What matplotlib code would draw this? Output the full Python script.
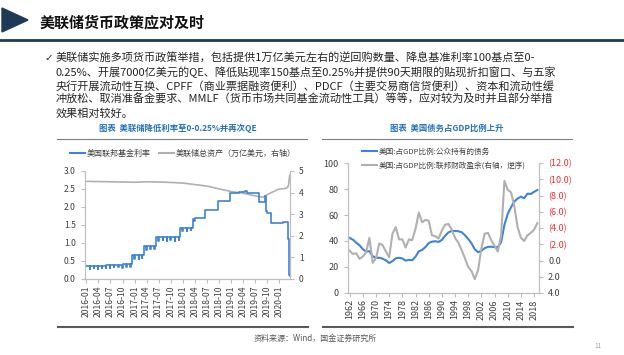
import matplotlib
matplotlib.use('Agg')
import matplotlib.pyplot as plt
from matplotlib.lines import Line2D
from matplotlib.patches import Polygon
import pandas as pd

plt.rcParams['font.family'] = ['Noto Sans CJK SC', 'DejaVu Sans']
plt.rcParams['axes.unicode_minus'] = False

W, H = 624, 355                                    # picture size in px

# ---- left chart: fed funds rate (step points, incl. month-end dips) ----
ffr_dates = ['2016-01-01', '2016-01-29', '2016-02-01', '2016-02-29', '2016-03-01', '2016-03-31',
             '2016-04-01', '2016-04-29', '2016-05-02', '2016-05-31', '2016-06-01', '2016-06-30',
             '2016-07-01', '2016-07-29', '2016-08-01', '2016-08-31', '2016-09-01', '2016-09-30',
             '2016-10-03', '2016-10-31', '2016-11-01', '2016-11-30', '2016-12-01', '2016-12-15',
             '2016-12-30', '2017-01-03', '2017-01-31', '2017-02-01', '2017-02-28', '2017-03-01',
             '2017-03-16', '2017-03-31', '2017-04-03', '2017-04-28', '2017-05-01', '2017-05-31',
             '2017-06-01', '2017-06-15', '2017-06-30', '2017-07-03', '2017-07-31', '2017-08-01',
             '2017-08-31', '2017-09-01', '2017-09-29', '2017-10-02', '2017-10-31', '2017-11-01',
             '2017-11-30', '2017-12-01', '2017-12-14', '2017-12-29', '2018-01-02', '2018-01-31',
             '2018-02-01', '2018-02-28', '2018-03-01', '2018-03-22', '2018-03-29', '2018-04-02',
             '2018-06-14', '2018-09-27', '2018-12-20', '2019-03-01', '2019-04-15', '2019-05-02',
             '2019-07-01', '2019-08-01', '2019-09-17', '2019-09-19', '2019-10-01', '2019-10-31',
             '2020-01-30', '2020-02-27', '2020-03-04', '2020-03-16', '2020-03-18', '2020-03-20']
ffr_vals = [0.36, 0.29, 0.37, 0.30, 0.37, 0.29,
            0.37, 0.31, 0.37, 0.30, 0.38, 0.30,
            0.40, 0.33, 0.40, 0.32, 0.40, 0.30,
            0.41, 0.33, 0.41, 0.32, 0.41, 0.66,
            0.55, 0.66, 0.56, 0.66, 0.57, 0.66,
            0.91, 0.80, 0.91, 0.82, 0.91, 0.82,
            0.91, 1.16, 1.06, 1.16, 1.07, 1.16,
            1.06, 1.16, 1.07, 1.16, 1.06, 1.16,
            1.07, 1.16, 1.42, 1.33, 1.42, 1.34,
            1.42, 1.35, 1.42, 1.68, 1.62, 1.69,
            1.91, 2.18, 2.40, 2.41, 2.44, 2.38,
            2.40, 2.13, 2.30, 1.90, 1.84, 1.56,
            1.59, 1.57, 1.10, 0.25, 0.10, 0.08]

# fed total assets, trillion USD (right axis)
assets_dates = ['2016-01-06', '2016-04-06', '2016-07-06', '2016-10-05', '2017-01-04', '2017-04-05',
                '2017-07-05', '2017-10-04', '2018-01-03', '2018-04-04', '2018-07-04', '2018-10-03',
                '2019-01-02', '2019-04-03', '2019-07-03', '2019-08-28', '2019-09-18', '2019-10-16',
                '2019-11-20', '2019-12-18', '2020-01-15', '2020-02-19', '2020-03-04', '2020-03-11',
                '2020-03-18', '2020-03-20']
assets_vals = [4.52, 4.51, 4.50, 4.49, 4.48, 4.50,
               4.49, 4.47, 4.44, 4.37, 4.30, 4.17,
               4.05, 3.97, 3.85, 3.78, 3.86, 3.95,
               4.05, 4.14, 4.17, 4.20, 4.24, 4.36,
               4.70, 4.80]

# ---- right chart: US debt / surplus as % of GDP ----
years = list(range(1962, 2020))
debt_pct = [42.3, 41.0, 38.7, 36.7, 33.7, 31.8, 32.2, 28.3, 27.0, 27.1, 26.4, 25.1, 23.1, 24.5,
            26.7, 27.1, 26.6, 24.9, 25.5, 25.2, 27.9, 32.1, 33.1, 35.3, 38.4, 39.5, 39.8, 39.3,
            40.8, 44.0, 46.6, 47.8, 47.7, 47.5, 46.8, 44.5, 41.6, 38.2, 33.6, 31.4, 32.5, 34.5,
            35.5, 35.6, 35.3, 35.2, 39.3, 52.3, 60.9, 65.9, 70.4, 72.6, 74.1, 72.9, 76.4, 76.2,
            77.8, 79.2]
surplus_pct = [-1.2, -0.8, -0.9, -0.2, -0.5, -1.0, -2.8, 0.3, -0.3, -2.1, -1.9, -1.1, -0.4, -3.3,
               -4.1, -2.6, -2.6, -1.6, -2.6, -2.5, -3.9, -5.9, -4.7, -5.0, -4.9, -3.1, -3.0, -2.7,
               -3.7, -4.4, -4.5, -3.8, -2.8, -2.2, -1.3, -0.3, 0.8, 1.3, 2.3, 1.2, -1.5, -3.3,
               -3.4, -2.5, -1.8, -1.1, -3.1, -9.8, -8.7, -8.4, -6.7, -4.1, -2.8, -2.4, -3.1, -3.4,
               -3.8, -4.6]

title = '美联储货币政策应对及时'
body_lines = ['美联储实施多项货币政策举措，包括提供1万亿美元左右的逆回购数量、降息基准利率100基点至0-',
              '0.25%、开展7000亿美元的QE、降低贴现率150基点至0.25%并提供90天期限的贴现折扣窗口、与五家',
              '央行开展流动性互换、CPFF（商业票据融资便利）、PDCF（主要交易商信贷便利）、资本和流动性缓',
              '冲放松、取消准备金要求、MMLF（货币市场共同基金流动性工具）等等，应对较为及时并且部分举措',
              '效果相对较好。']

BLUE = '#3f83d6'
GRAY = '#b0b0b0'
AXC = '#bfbfbf'
TXT = '#404040'


def fx(x):                                          # px -> figure fraction
    return x / W


def fy(y):
    return 1 - y / H


fig = plt.figure(figsize=(W / 100, H / 100), dpi=100)

# header
fig.patches.append(Polygon([(fx(2), fy(8)), (fx(2), fy(32)), (fx(28), fy(20))], closed=True,
                           transform=fig.transFigure, color='#1f3a56'))
fig.add_artist(Line2D([0, 1], [fy(40), fy(40)], transform=fig.transFigure, color='#1f3a56', lw=2))
fig.text(fx(40), fy(22), title, fontsize=10.8, fontweight='bold', color='#111111', va='center')

fig.text(fx(44), fy(58), '✓', fontsize=7.5, color='#262626', va='center',
         family=['DejaVu Sans'])
for i, line in enumerate(body_lines):
    fig.text(fx(56), fy(58 + i * 13.9), line, fontsize=8.0, color='#262626', va='center')

# chart titles and rules
fig.text(fx(178), fy(128), '图表  美联储降低利率至0-0.25%并再次QE', fontsize=6, fontweight='bold',
         color='#2472b8', ha='center', va='center')
fig.text(fx(447), fy(128), '图表  美国债务占GDP比例上升', fontsize=6, fontweight='bold',
         color='#2472b8', ha='center', va='center')
for x0, x1 in [(57, 307), (322, 572)]:
    fig.add_artist(Line2D([fx(x0), fx(x1)], [fy(139), fy(139)], transform=fig.transFigure,
                          color='#7f7f7f', lw=0.8))
    fig.add_artist(Line2D([fx(x0 + 1), fx(x1 + 1)], [fy(327), fy(327)], transform=fig.transFigure,
                          color='#595959', lw=1.5))
fig.text(fx(315), fy(338), '资料来源：Wind，国金证券研究所', fontsize=5.8, color='#595959',
         ha='center', va='center')
fig.text(fx(598), fy(346), '11', fontsize=4.5, color='#a0a0a0', ha='center', va='center')


def style_axis(a):
    for s in a.spines.values():
        s.set_color(AXC)
        s.set_linewidth(0.8)
    a.spines['top'].set_visible(False)
    a.tick_params(colors=AXC, labelcolor=TXT, length=3, width=0.8)


# ---- left chart ----
ax1 = fig.add_axes([fx(85), fy(279), fx(290) - fx(85), fy(171) - fy(279)])
ax1r = ax1.twinx()
d_ffr = pd.to_datetime(ffr_dates)
d_ast = pd.to_datetime(assets_dates)
ax1.plot(d_ffr, ffr_vals, drawstyle='steps-post', color=BLUE, lw=1.2)
ax1r.plot(d_ast, assets_vals, color=GRAY, lw=1.2)
ax1.set_zorder(ax1r.get_zorder() + 1)
ax1.patch.set_visible(False)
ax1.set_ylim(0, 3)
ax1r.set_ylim(0, 5)
ax1.set_yticks([0, 0.5, 1, 1.5, 2, 2.5, 3])
ax1.set_yticklabels(['%.1f' % v for v in [0, 0.5, 1, 1.5, 2, 2.5, 3]])
ax1r.set_yticks(range(6))
xt = pd.date_range('2016-01-01', '2020-01-01', freq='3MS')
ax1.set_xticks(xt)
ax1.set_xticklabels([d.strftime('%Y-%m') for d in xt], rotation=90)
ax1.set_xlim(pd.Timestamp('2015-12-22'), pd.Timestamp('2020-03-22'))
for a in (ax1, ax1r):
    style_axis(a)
    a.tick_params(labelsize=6.2)
ax1.tick_params(axis='x', labelsize=6.2, pad=1.5)

fig.legend([Line2D([], [], color=BLUE, lw=1.5), Line2D([], [], color=GRAY, lw=1.5)],
           ['美国联邦基金利率', '美联储总资产（万亿美元，右轴）'], ncol=2, loc='center',
           bbox_to_anchor=(fx(183), fy(153)), frameon=False, fontsize=5.8, handlelength=1.8,
           columnspacing=1.0, handletextpad=0.3, labelcolor=TXT)

# ---- right chart ----
ax2 = fig.add_axes([fx(348), fy(293), fx(539) - fx(348), fy(163) - fy(293)])
ax2r = ax2.twinx()
ax2.plot(years, debt_pct, color=BLUE, lw=1.5)
ax2r.plot(years, surplus_pct, color=GRAY, lw=1.5)
ax2.set_xlim(1961.5, 2019.5)
ax2.set_ylim(0, 100)
ax2.set_yticks(range(0, 101, 20))
ax2r.set_ylim(4, -12)
rt = list(range(-12, 5, 2))
ax2r.set_yticks(rt)
ax2r.set_yticklabels(['(%.1f)' % -v if v < 0 else '%.1f' % v for v in rt])
ax2.set_xticks(range(1962, 2019, 4))
ax2.set_xticklabels([str(y) for y in range(1962, 2019, 4)], rotation=90)
for a in (ax2, ax2r):
    style_axis(a)
    a.tick_params(labelsize=6.5)
for v, lab in zip(rt, ax2r.get_yticklabels()):
    if v < 0:
        lab.set_color('#e8332f')                       # negatives shown red in brackets
ax2.tick_params(axis='x', pad=1.5)

ax2.legend([Line2D([], [], color=BLUE, lw=1.5), Line2D([], [], color=GRAY, lw=1.5)],
           ['美国:占GDP比例:公众持有的债务', '美国:占GDP比例:联邦财政盈余(右轴，逆序)'],
           loc='upper left', bbox_to_anchor=(fx(362), fy(147.5)), bbox_transform=fig.transFigure,
           frameon=False, fontsize=5.5, handlelength=1.9, handletextpad=0.3, labelspacing=0.85,
           borderpad=0, borderaxespad=0, labelcolor=TXT)

fig.savefig('out.png', dpi=100)
